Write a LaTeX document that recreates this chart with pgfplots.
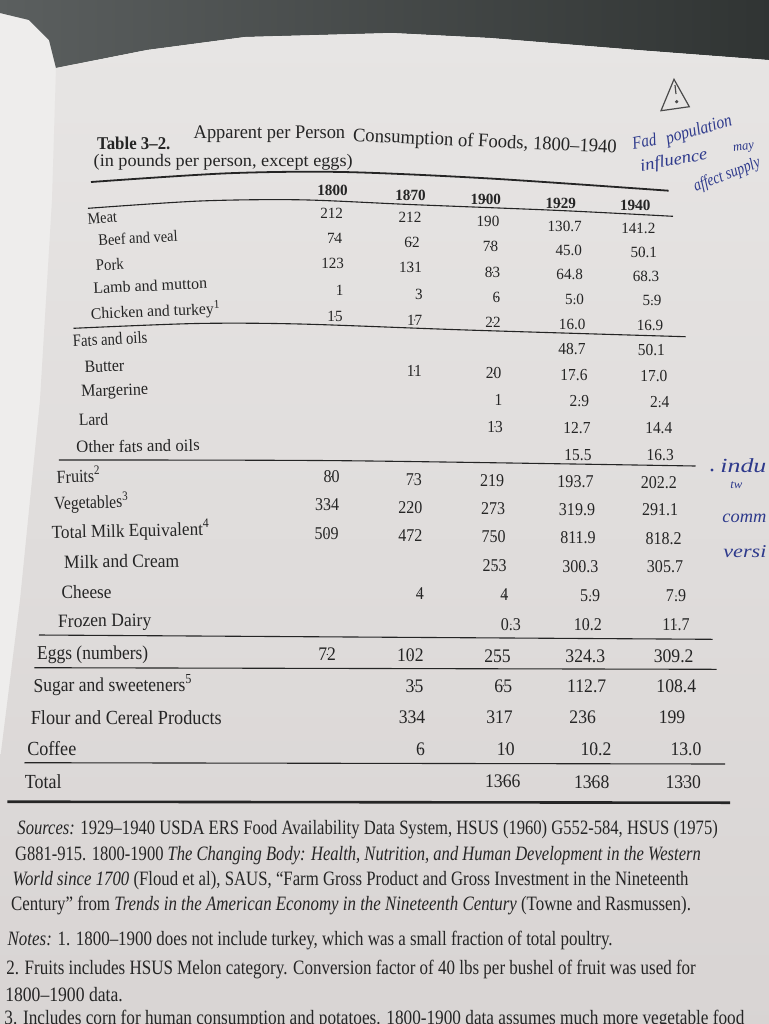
\documentclass[border=0pt]{standalone}
\usepackage{pgfplots}
\pgfplotsset{compat=1.18}
\usepackage{pgfplotstable}
\usepackage{graphicx}
\usepackage{fontspec}
\setmainfont{Liberation Serif}
\newfontfamily\fA[FakeStretch=0.97]{Liberation Serif}
\newfontfamily\fB[FakeStretch=0.92]{Liberation Serif}
\newfontfamily\fC[FakeStretch=0.89]{Liberation Serif}
\newfontfamily\fD[FakeStretch=0.92]{Liberation Serif}

\definecolor{ink}{HTML}{252525}
\definecolor{paperT}{HTML}{E7E5E4}
\definecolor{paperB}{HTML}{D8D4D3}
\definecolor{paperL}{HTML}{EEEDEC}
\definecolor{deskL}{HTML}{5C6060}
\definecolor{deskR}{HTML}{2F3332}
\definecolor{pen}{HTML}{2E3A8C}
\definecolor{pencil}{HTML}{4A4A4A}

\newdimen\pxunit \pxunit=0.5pt
\newcommand\fit[2]{\resizebox{#1\pxunit}{\height}{#2}}
\newcommand\hand{\itshape}

\pgfplotstableread{
x y v
332.5 190 1800
410.5 195 1870
485.8 199.5 1900
560.8 203.3 1929
635.3 205.7 1940
}\vHead

\pgfplotstableread{
x y v
331.7 213.3 212
410 217.8 212
488 221.7 190
564.7 226.2 130.7
638.3 228.3 141.2
334.7 238.3 74
412 242.8 62
490.5 246.7 78
568.8 250.8 45.0
643.8 252 50.1
332.7 263.8 123
410.5 267.2 131
492.5 272.2 83
569.7 274.7 64.8
646 276.2 68.3
339.7 290.5 1
418.8 294 3
496.3 297.2 6
574.5 299 5.0
652 300.5 5.9
335 316.7 15
414.7 320 17
493 322.5 22
572.2 324.5 16.0
650 325.8 16.9
}\vA

\pgfplotstableread{
x y v
572 349.3 48.7
651.4 350 50.1
414.4 370.7 11
493.7 373.3 20
574 375 17.6
653.9 375.7 17.0
498.6 400 1
579.4 400.7 2.9
659.7 401.7 2.4
495 426.7 13
577 427.7 12.7
658.8 428.3 14.4
578 455 15.5
660.2 455 16.3
}\vB

\pgfplotstableread{
x y v
331.6 476.7 80
413.9 480 73
492.2 480.7 219
575.5 481.7 193.7
658.8 482.3 202.2
327.2 505 334
410.4 507.7 220
493.2 509 273
577 509.3 319.9
660.2 510 291.1
326.7 534 509
410.4 535.7 472
493.7 536.7 750
578 537.3 811.9
663.7 538.3 818.2
494.7 566 253
580.4 566.7 300.3
665 566.7 305.7
419.8 593.3 4
504.5 595 4
590.2 596 5.9
676 596 7.9
510.9 624.3 0.3
587.8 625 10.2
676 625 11.7
}\vC

\pgfplotstableread{
x y v
327.2 654.5 72
410.4 655 102
497.5 655.8 255
585.3 655.8 324.3
673.7 655.8 309.2
414.5 685.8 35
503.3 685.8 65
586.7 685.8 112.7
676.3 685.8 108.4
412 717 334
499.5 717 317
582.7 717 236
672 717 199
420.5 748.8 6
505.8 748.8 10
596 748.8 10.2
686 748.8 13.0
502.8 781.7 1366
591.7 781.7 1368
683.3 781.7 1330
}\vD

\pgfplotsset{
  valstyle/.style={only marks, mark=*, mark size=0.01pt,
    mark options={draw=none, fill=none},
    nodes near coords, point meta=explicit symbolic,
    every node near coord/.style={anchor=center, inner sep=0pt, text=ink, font=#1}},
  rule/.style={ink, line width=#1, mark=none, smooth, tension=0.5},
}

\begin{document}
\begin{tikzpicture}
\begin{axis}[
  scale only axis, width=384pt, height=512pt,
  xmin=0, xmax=768, ymin=0, ymax=1024, y dir=reverse,
  axis lines=none, clip=false,
]
% background: light sheet everywhere, desk above the pages, main page
\addplot[draw=none, fill=paperL] coordinates {(-20,-20) (790,-20) (790,1044) (-20,1044)} -- cycle;
\addplot[draw=none, left color=deskL, right color=deskR] coordinates {(-20,-20) (790,-20) (790,62) (768,60) (637,50) (490,38) (392,33) (245,37) (147,50) (56,68) (49,40) (29,20) (0,13) (-20,10)} -- cycle;
\addplot[draw=none, top color=paperT, bottom color=paperB] coordinates {(56,68) (147,50) (245,37) (392,33) (490,38) (637,50) (768,60) (790,62) (790,1044) (-20,1044) (-20,760) (0,760) (20,600) (40,400) (52,200)} -- cycle;

% rules
\addplot[rule=0.9pt] coordinates {(91,182) (227,173.3) (343,172) (490,178.5) (668.6,190.7)};
\addplot[rule=0.55pt] coordinates {(88,208.3) (200,201) (300,199.8) (410,204.5) (560,210.5) (673,216.3)};
\addplot[rule=0.55pt] coordinates {(73.5,328.3) (196,323.5) (300,324) (466.7,330) (685.7,336.7)};
\addplot[rule=0.55pt] coordinates {(58.8,460) (343,460.7) (695.5,466)};
\addplot[rule=0.55pt] coordinates {(39,635) (712.7,639.3)};
\addplot[rule=0.55pt] coordinates {(34.3,667.7) (716.7,669.3)};
\addplot[rule=0.55pt] coordinates {(24.5,762.7) (725,764)};
\addplot[rule=1.3pt] coordinates {(7.3,801.7) (730,802.7)};

% values
\addplot[valstyle={\fA\bfseries\fontsize{7.8}{9}\selectfont}] table[x=x,y=y,meta=v] {\vHead};
\addplot[valstyle={\fA\fontsize{7.8}{9}\selectfont}] table[x=x,y=y,meta=v] {\vA};
\addplot[valstyle={\fB\fontsize{8.4}{10}\selectfont}] table[x=x,y=y,meta=v] {\vB};
\addplot[valstyle={\fC\fontsize{9}{10}\selectfont}] table[x=x,y=y,meta=v] {\vC};
\addplot[valstyle={\fD\fontsize{9.6}{11}\selectfont}] table[x=x,y=y,meta=v] {\vD};

% title
\begin{scope}[every node/.style={anchor=west, inner sep=0pt, text=ink}]
\node at (axis cs:96.7,143.5) {\fit{73.3}{\fontsize{9}{11}\selectfont\bfseries Table 3–2.}};
\node at (axis cs:193.3,134.5) {\fit{151.5}{\fontsize{9.6}{12}\selectfont Apparent per Person}};
\node[rotate=-2.6] at (axis cs:352.6,136.5) {\fit{264}{\fontsize{9.6}{12}\selectfont Consumption of Foods, 1800–1940}};
\node at (axis cs:93.3,162) {\fit{259}{\fontsize{8.8}{11}\selectfont (in pounds per person, except eggs)}};

% row labels
\node[rotate=5] at (axis cs:87.2,219.5) {\fit{29.4}{\fontsize{8}{10}\selectfont Meat}};
\node[rotate=3] at (axis cs:98,240) {\fit{79.3}{\fontsize{8}{10}\selectfont Beef and veal}};
\node[rotate=3] at (axis cs:95.5,265.5) {\fit{27.9}{\fontsize{8}{10}\selectfont Pork}};
\node[rotate=2.5] at (axis cs:93,288) {\fit{113.7}{\fontsize{8}{10}\selectfont Lamb and mutton}};
\node[rotate=2.2] at (axis cs:90.6,314) {\fit{129.8}{\fontsize{8}{10}\selectfont Chicken and turkey\textsuperscript{1}}};
\node[rotate=3] at (axis cs:72.5,341) {\fit{74.5}{\fontsize{8.6}{10}\selectfont Fats and oils}};
\node[rotate=2] at (axis cs:84.2,367) {\fit{39.7}{\fontsize{8.6}{10}\selectfont Butter}};
\node[rotate=2] at (axis cs:80.8,393) {\fit{67.1}{\fontsize{8.6}{10}\selectfont Margerine}};
\node[rotate=2] at (axis cs:78.4,420) {\fit{29.4}{\fontsize{8.6}{10}\selectfont Lard}};
\node[rotate=1] at (axis cs:75.9,447) {\fit{123.4}{\fontsize{8.6}{10}\selectfont Other fats and oils}};
\node[rotate=2] at (axis cs:56.3,475.5) {\fit{44}{\fontsize{9.2}{11}\selectfont Fruits\textsuperscript{2}}};
\node[rotate=1.5] at (axis cs:53.9,503.5) {\fit{74.4}{\fontsize{9.2}{11}\selectfont Vegetables\textsuperscript{3}}};
\node[rotate=1.2] at (axis cs:51.4,532.5) {\fit{158.2}{\fontsize{9.2}{11}\selectfont Total Milk Equivalent\textsuperscript{4}}};
\node[rotate=0.8] at (axis cs:63.7,562) {\fit{115.1}{\fontsize{9.4}{11}\selectfont Milk and Cream}};
\node[rotate=0.5] at (axis cs:61.2,592.5) {\fit{50}{\fontsize{9.4}{11}\selectfont Cheese}};
\node[rotate=0.5] at (axis cs:57.8,623) {\fit{93.1}{\fontsize{9.4}{11}\selectfont Frozen Dairy}};
\node[rotate=0.3] at (axis cs:36.7,655) {\fit{111.2}{\fontsize{9.8}{12}\selectfont Eggs (numbers)}};
\node[rotate=0.3] at (axis cs:33.3,686) {\fit{158.7}{\fontsize{9.8}{12}\selectfont Sugar and sweeteners\textsuperscript{5}}};
\node at (axis cs:30.4,717.5) {\fit{191}{\fontsize{10}{12}\selectfont Flour and Cereal Products}};
\node at (axis cs:26.9,748.5) {\fit{49}{\fontsize{10}{12}\selectfont Coffee}};
\node at (axis cs:24.5,781.5) {\fit{36.7}{\fontsize{10}{12}\selectfont Total}};

% sources and notes
\node at (axis cs:17.1,830) {\fit{700.4}{\fontsize{10.2}{12}\selectfont \textit{Sources:} 1929–1940 USDA ERS Food Availability Data System, HSUS (1960) G552-584, HSUS (1975)}};
\node at (axis cs:14.7,856) {\fit{685.7}{\fontsize{10.2}{12}\selectfont G881-915. 1800-1900 \textit{The Changing Body: Health, Nutrition, and Human Development in the Western}}};
\node at (axis cs:12.2,881) {\fit{676}{\fontsize{10.2}{12}\selectfont \textit{World since 1700} (Floud et al), SAUS, “Farm Gross Product and Gross Investment in the Nineteenth}};
\node at (axis cs:10.8,906) {\fit{679.8}{\fontsize{10.2}{12}\selectfont Century” from \textit{Trends in the American Economy in the Nineteenth Century} (Towne and Rasmussen).}};
\node at (axis cs:7.3,940.7) {\fit{604.9}{\fontsize{10.2}{12}\selectfont \textit{Notes:} 1. 1800–1900 does not include turkey, which was a small fraction of total poultry.}};
\node at (axis cs:5.9,969.3) {\fit{689.6}{\fontsize{10.2}{12}\selectfont 2. Fruits includes HSUS Melon category. Conversion factor of 40 lbs per bushel of fruit was used for}};
\node at (axis cs:4.9,995) {\fit{117.5}{\fontsize{10.2}{12}\selectfont 1800–1900 data.}};
\node at (axis cs:4,1019.5) {\fit{740}{\fontsize{10.2}{12}\selectfont 3. Includes corn for human consumption and potatoes. 1800-1900 data assumes much more vegetable food}};
\end{scope}

% handwritten marginalia
\addplot[pencil, line width=0.6pt, mark=none] coordinates {(674,79.3) (661,110.7) (689.3,106.7)} -- cycle;
\addplot[pencil, line width=0.6pt, mark=none] coordinates {(675,85) (676,94)};
\addplot[pencil, only marks, mark=*, mark size=0.6pt] coordinates {(676.7,101.7)};
\begin{scope}[every node/.style={anchor=west, inner sep=0pt, text=pen}]
\node[rotate=10] at (axis cs:632,143) {\fit{24}{\hand\fontsize{9}{10}\selectfont Fad}};
\node[rotate=16] at (axis cs:666,140) {\fit{68}{\hand\fontsize{9}{10}\selectfont population}};
\node[rotate=8] at (axis cs:733,150) {\fit{21}{\hand\fontsize{6.5}{8}\selectfont may}};
\node[rotate=10] at (axis cs:640,167) {\fit{68}{\hand\fontsize{8.5}{10}\selectfont influence}};
\node[rotate=21] at (axis cs:694,188) {\fit{70}{\hand\fontsize{8.5}{10}\selectfont affect supply}};
\node at (axis cs:720,466) {\fit{46}{\hand\fontsize{10}{11}\selectfont indu}};
\node at (axis cs:730,485) {\fit{12}{\hand\fontsize{6}{7}\selectfont tw}};
\node at (axis cs:722,518) {\fit{44}{\hand\fontsize{9}{10}\selectfont comm}};
\node at (axis cs:723,552) {\fit{43}{\hand\fontsize{9}{10}\selectfont versi}};
\end{scope}
\addplot[pen, only marks, mark=*, mark size=0.5pt] coordinates {(712,470)};
\end{axis}
\pgfresetboundingbox
\useasboundingbox (current axis.south west) rectangle (current axis.north east);
\end{tikzpicture}
\end{document}
